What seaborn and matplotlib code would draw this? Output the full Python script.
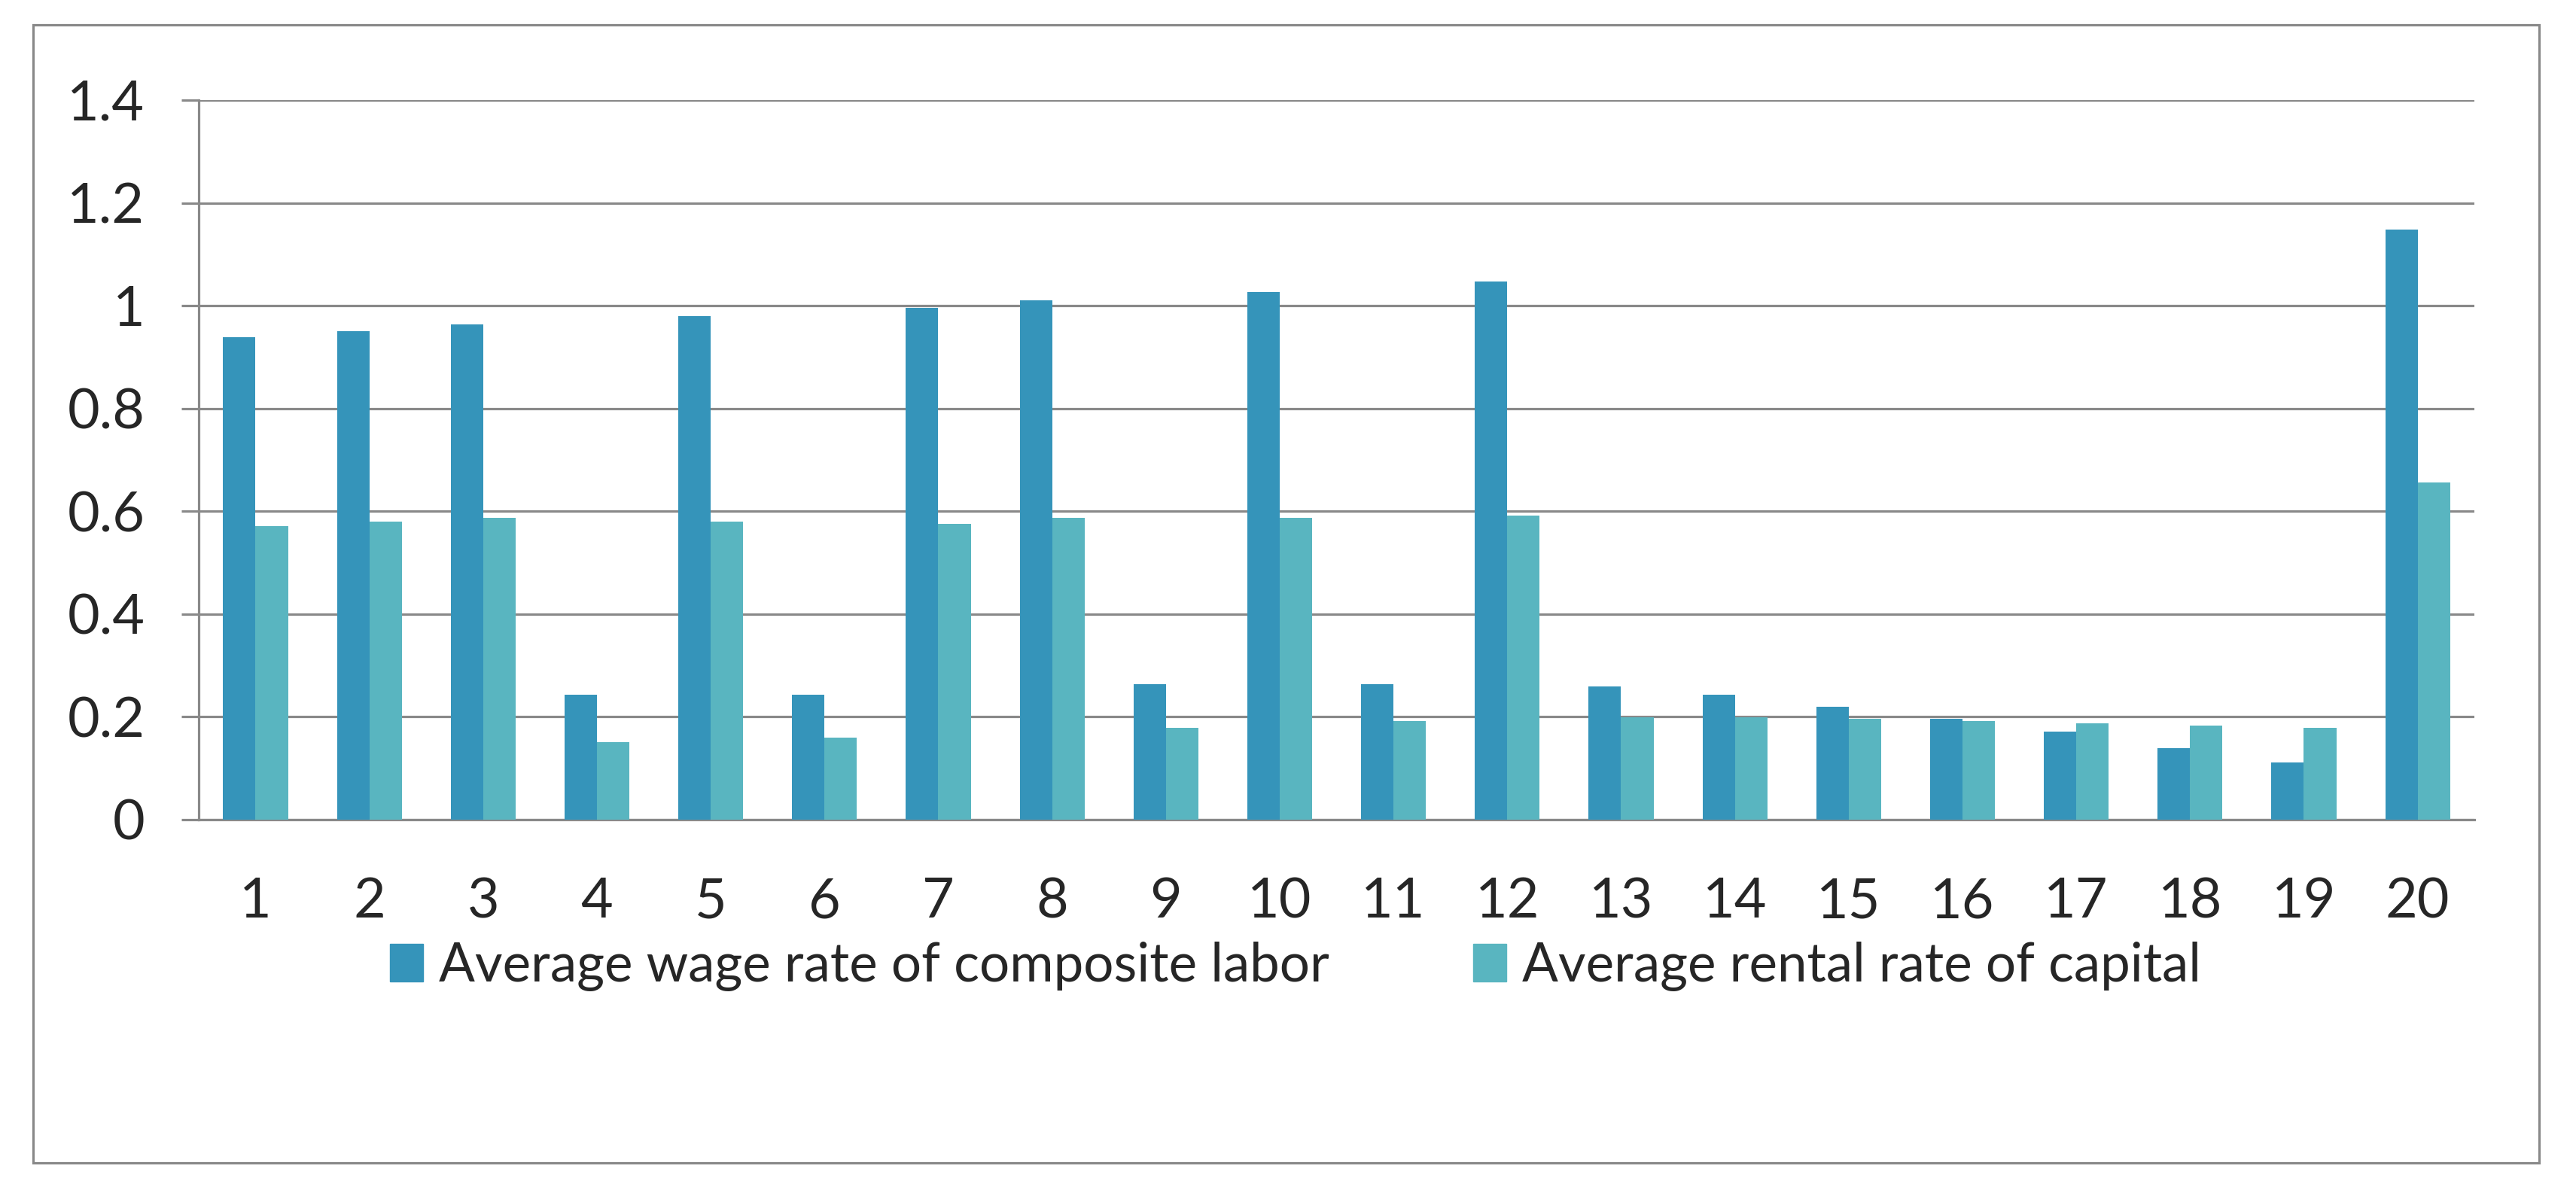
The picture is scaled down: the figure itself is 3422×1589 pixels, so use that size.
import numpy as np
import pandas as pd
import matplotlib
matplotlib.use("Agg")
import matplotlib.pyplot as plt
import seaborn as sns
from matplotlib.patches import Rectangle
from matplotlib.ticker import FixedLocator

# data
categories = [str(i) for i in range(1, 21)]
wage = [0.939, 0.951, 0.963, 0.243, 0.979, 0.243, 0.996, 1.011, 0.264, 1.027,
        0.264, 1.047, 0.259, 0.243, 0.220, 0.196, 0.171, 0.139, 0.111, 1.148]
rental = [0.571, 0.580, 0.587, 0.151, 0.580, 0.160, 0.576, 0.587, 0.179, 0.587,
          0.192, 0.592, 0.199, 0.199, 0.196, 0.192, 0.188, 0.183, 0.179, 0.656]
series_names = ["Average wage rate of composite labor", "Average rental rate of capital"]
colors = ["#3594BA", "#59B5C0"]
yticks = [0, 0.2, 0.4, 0.6, 0.8, 1.0, 1.2, 1.4]
ytick_labels = ["0", "0.2", "0.4", "0.6", "0.8", "1", "1.2", "1.4"]

df = pd.DataFrame({
    "cat": categories * 2,
    "value": wage + rental,
    "series": [series_names[0]] * 20 + [series_names[1]] * 20,
})

sns.set_style("white")
plt.rcParams['font.family'] = ['Lato', 'DejaVu Sans']
grey = "#898989"
fs = 53

fig = plt.figure(figsize=(34.22, 15.89), dpi=100)
ax = fig.add_axes([0.0771, 0.3147, 0.8835, 0.6016])

sns.barplot(data=df, x="cat", y="value", hue="series", palette=colors,
            saturation=1, width=0.57, linewidth=0, ax=ax, zorder=3)

ax.set_xlim(-0.5, 19.5)
ax.set_ylim(0, 1.4)
ax.set_yticks(yticks)
ax.set_yticklabels(ytick_labels)
ax.set_xlabel("")
ax.set_ylabel("")

ax.grid(axis="y", color=grey, linewidth=2.3, zorder=0)
ax.set_axisbelow(True)
for s in ["top", "right"]:
    ax.spines[s].set_visible(False)
for s in ["left", "bottom"]:
    ax.spines[s].set_color(grey)
    ax.spines[s].set_linewidth(2.3)

ax.xaxis.set_minor_locator(FixedLocator(np.arange(-0.5, 20, 1)))
ax.tick_params(axis="x", which="major", length=0, pad=55, labelsize=fs)
ax.tick_params(axis="x", which="minor", length=20, width=2.3, color=grey, direction="out")
ax.tick_params(axis="y", which="major", length=16.5, width=2.3, color=grey,
               direction="out", pad=35, labelsize=fs, left=True)

ax.legend_.remove()
handles = [Rectangle((0, 0), 1, 1, color=c) for c in colors]
fig.legend(handles, series_names, loc="center", bbox_to_anchor=(0.503, 0.192),
           ncol=2, frameon=False, fontsize=51, handlelength=0.62, handleheight=0.72,
           handletextpad=0.3, columnspacing=2.7)

# outer frame around the chart
fig.patches.append(Rectangle((44 / 3422, 1 - 1545 / 1589), (3373 - 44) / 3422,
                             (1545 - 33) / 1589, transform=fig.transFigure,
                             fill=False, edgecolor=grey, linewidth=2.3))

fig.savefig("out.png", dpi=100, facecolor="white")
